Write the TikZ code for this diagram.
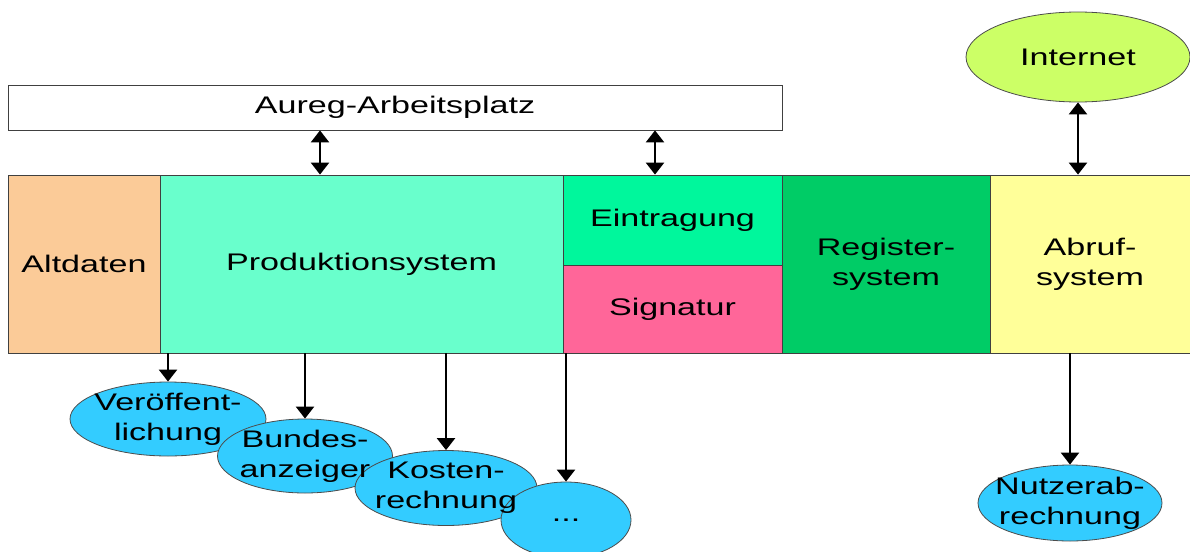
\documentclass[tikz,border=0pt]{standalone}
\usepackage{fontspec}
\setmainfont{Liberation Sans}[FakeStretch=1.42]
\usetikzlibrary{arrows.meta,shapes.geometric}

\begin{document}
\begin{tikzpicture}[x=1pt,y=-1pt,
		font=\fontsize{24}{30}\selectfont,
		block/.style={draw=black!75, line width=0.8pt, rectangle, inner sep=0pt, align=center},
		blob/.style={draw=black!70, line width=0.8pt, ellipse, inner sep=0pt, fill=ellblue},
		blobtext/.style={inner sep=0pt, align=center},
		link/.style={line width=2.4pt, -{Triangle[length=12pt,width=18pt]}},
		dlink/.style={line width=2.4pt, {Triangle[length=12pt,width=18pt]}-{Triangle[length=12pt,width=18pt]}}]
				\definecolor{altorange}{HTML}{FBCB98}
				\definecolor{prodgreen}{HTML}{69FFCC}
				\definecolor{eintrgreen}{HTML}{00F79C}
				\definecolor{sigpink}{HTML}{FF6699}
				\definecolor{reggreen}{HTML}{00CC66}
				\definecolor{abrufyellow}{HTML}{FFFF99}
				\definecolor{netgreen}{HTML}{CCFF66}
				\definecolor{ellblue}{HTML}{33CCFF}
				\useasboundingbox (0,0) rectangle (1190,551);
				
				\node[block, minimum width=774, minimum height=45] (aureg) at (395,107.5) {Aureg-Arbeitsplatz};
				
				\node[block, fill=altorange, minimum width=152, minimum height=178] (alt) at (84,264) {Altdaten};
				\node[block, fill=prodgreen, minimum width=403, minimum height=178] (prod) at (361.5,264) {Produktionsystem};
				\node[block, fill=eintrgreen, minimum width=219, minimum height=90] (eintr) at (672.5,220) {Eintragung};
				\node[block, fill=sigpink, minimum width=219, minimum height=88] (sig) at (672.5,309) {Signatur};
				\node[block, fill=reggreen, minimum width=208, minimum height=178] (reg) at (886,264) {Register-\\system};
				\node[block, fill=abrufyellow, minimum width=200, minimum height=178] (abruf) at (1090,264) {Abruf-\\system};
				
				\node[blob, fill=netgreen, minimum width=224, minimum height=90] (net) at (1078,57) {};
				\node[blobtext] (nettxt) at (net) {Internet};
				
				% ellipses first, their texts on top
				\node[blob, minimum width=196, minimum height=74] (veroe) at (168,419) {};
				\node[blob, minimum width=175, minimum height=74] (bund) at (305,456) {};
				\node[blob, minimum width=182, minimum height=75] (kosten) at (446,488) {};
				\node[blob, minimum width=130, minimum height=76] (dots) at (566,520) {};
				\node[blob, minimum width=184, minimum height=76] (nutzer) at (1070,503) {};
				
				\node[blobtext] (veroetxt) at (veroe) {Veröffent-\\lichung};
				\node[blobtext] (bundtxt) at (bund) {Bundes-\\anzeiger};
				\node[blobtext] (kostentxt) at (kosten) {Kosten-\\rechnung};
				\node[blobtext] (dotstxt) at (dots) {...};
				\node[blobtext] (nutzertxt) at (nutzer) {Nutzerab-\\rechnung};
				
				\coordinate (xa) at (320,0);
				\coordinate (xb) at (655,0);
				\draw[dlink] (aureg.south -| xa) -- (prod.north -| xa);
				\draw[dlink] (aureg.south -| xb) -- (eintr.north -| xb);
				\draw[dlink] (net.south) -- (net.south |- abruf.north);
				
				\draw[link] (veroe.north |- prod.south) -- (veroe.north);
				\draw[link] (bund.north |- prod.south) -- (bund.north);
				\draw[link] (kosten.north |- prod.south) -- (kosten.north);
				\draw[link] (dots.north |- prod.south) -- (dots.north);
				\draw[link] (nutzer.north |- abruf.south) -- (nutzer.north);
\end{tikzpicture}
\end{document}
